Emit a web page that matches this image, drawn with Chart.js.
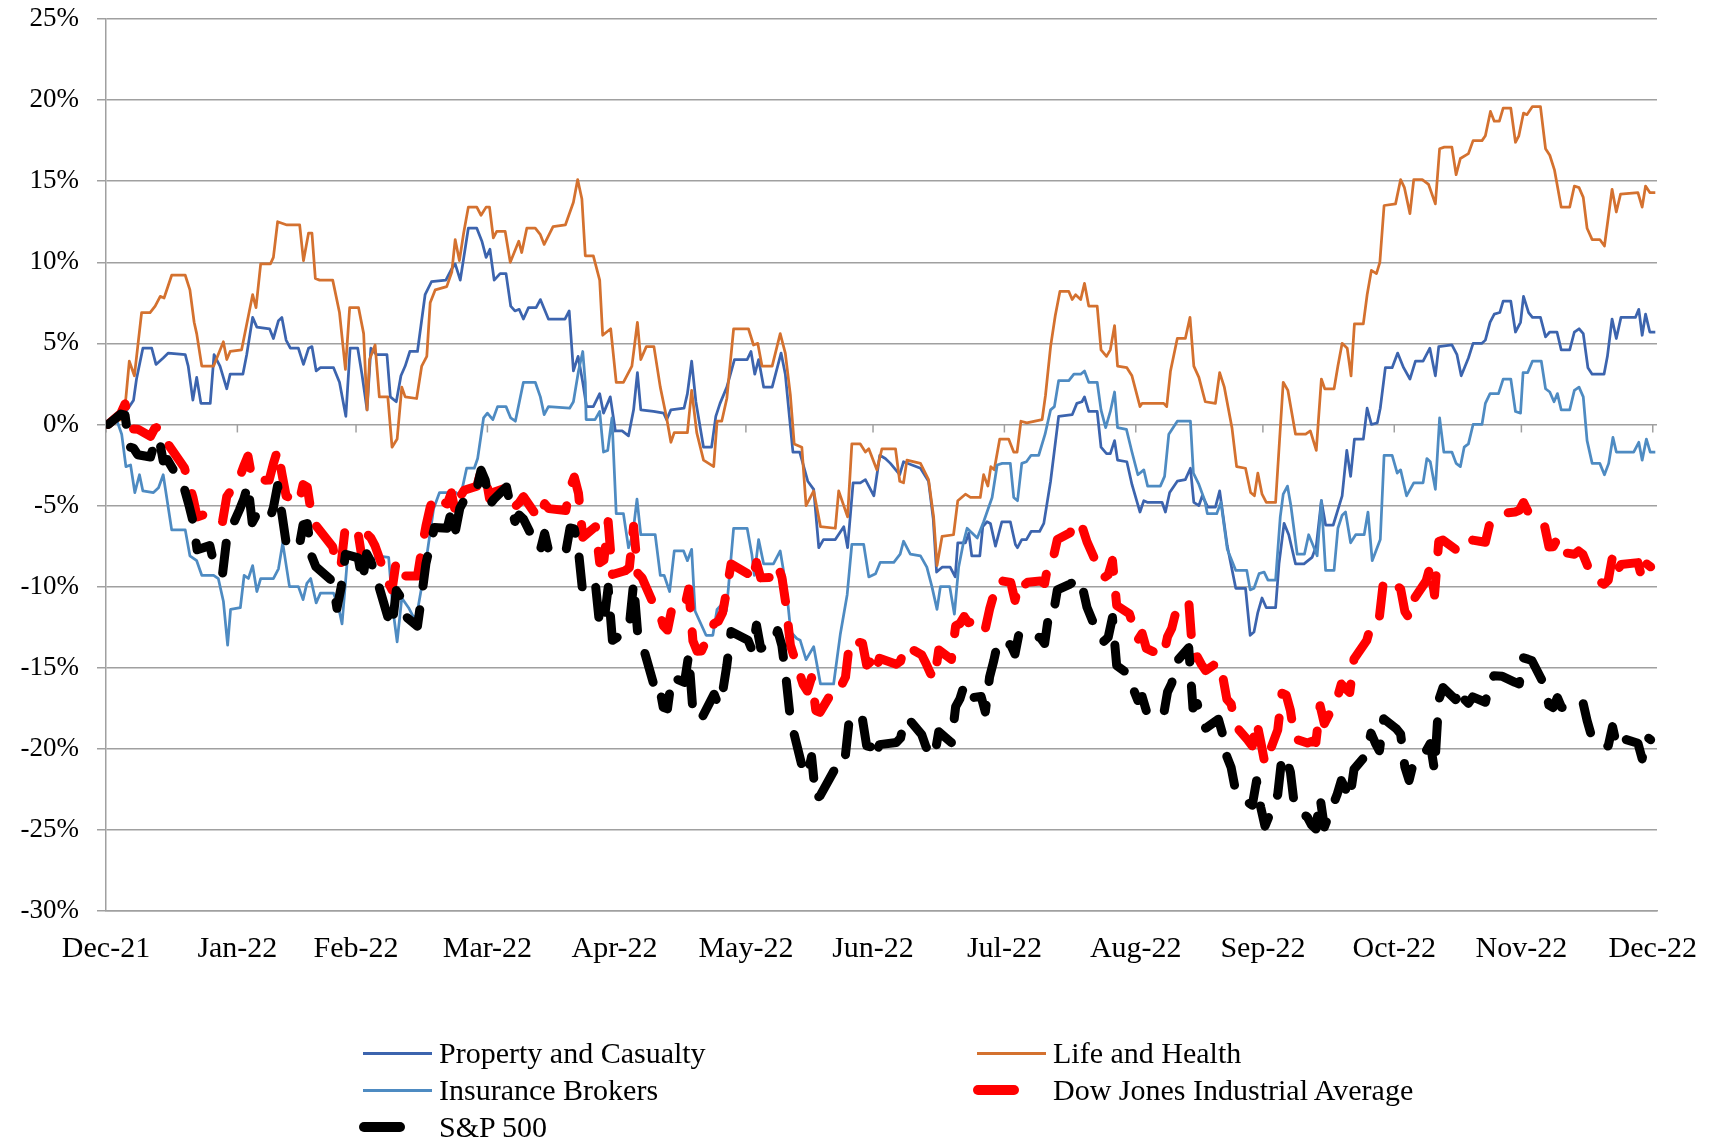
<!DOCTYPE html>
<html>
<head>
<meta charset="utf-8">
<script src="https://cdn.jsdelivr.net/npm/chart.js"></script>
<style>
html,body{margin:0;padding:0;background:#fff;}
#wrap{position:relative;width:1715px;height:1143px;}
#legend{position:absolute;left:0;top:0;width:1715px;height:1143px;pointer-events:none;font-family:"Liberation Serif",serif;font-size:30px;color:#000;}
.item{position:absolute;display:flex;align-items:center;height:37px;white-space:nowrap;}
.sample{width:69px;margin-right:7px;display:flex;align-items:center;}
</style>
</head>
<body>
<div id="wrap"><canvas id="c" width="1715" height="1143"></canvas><div id="legend"></div></div>
<script>
// ---- axis categories (calendar day offsets from 31-Dec-2021) ----
const monthTickDays = [0,31,59,90,120,151,181,212,243,273,304,334,365];
const monthLabels = ['Dec-21','Jan-22','Feb-22','Mar-22','Apr-22','May-22','Jun-22','Jul-22','Aug-22','Sep-22','Oct-22','Nov-22','Dec-22'];

// ---- trading days for the two broad indices ----
const tradingDays = [0,
3,4,5,6,7,10,11,12,13,14,18,19,20,21,24,25,26,27,28,31,
32,33,34,35,38,39,40,41,42,45,46,47,48,49,53,54,55,56,59,
60,61,62,63,66,67,68,69,70,73,74,75,76,77,80,81,82,83,84,87,88,89,90,
91,94,95,96,97,98,101,102,103,104,108,109,110,111,112,115,116,117,118,119,
122,123,124,125,126,129,130,131,132,133,136,137,138,139,140,143,144,145,146,147,151,
152,153,154,157,158,159,160,161,164,165,166,167,168,172,173,174,175,178,179,180,181,
182,186,187,188,189,192,193,194,195,196,199,200,201,202,203,206,207,208,209,210,
213,214,215,216,217,220,221,222,223,224,227,228,229,230,231,234,235,236,237,238,241,242,243,
244,245,249,250,251,252,255,256,257,258,259,262,263,264,265,266,269,270,271,272,273,
276,277,278,279,280,283,284,285,286,287,290,291,292,293,294,297,298,299,300,301,304,
305,306,307,308,311,312,313,314,315,318,319,320,321,322,325,326,327,329,332,333,334,
335,336,339,340,341,342,343,346,347,348,349,350,353,354,355,356,357,361,362,363,364];

const sp500 = [0,
0.64,0.57,-1.38,-1.47,-1.87,-2.01,-1.11,-0.84,-2.25,-2.17,-3.97,-4.90,-5.95,-7.73,-7.47,-8.60,-8.73,-9.22,-7.01,-5.26,
-4.61,-3.71,-6.06,-5.57,-5.92,-5.13,-3.76,-5.50,-7.29,-7.65,-6.19,-6.11,-8.10,-8.76,-9.68,-11.34,-10.02,-8.00,-8.23,
-9.65,-7.97,-8.45,-9.18,-11.86,-12.49,-10.24,-10.63,-11.79,-12.44,-10.57,-8.57,-7.44,-6.36,-6.40,-5.34,-6.50,-5.16,-4.68,-4.00,-2.82,-3.44,-4.95,
-4.62,-3.85,-5.06,-5.98,-5.58,-5.83,-7.42,-7.74,-6.71,-7.84,-7.86,-6.38,-6.44,-7.82,-10.37,-9.86,-12.40,-12.22,-10.04,-13.31,
-12.82,-12.39,-9.78,-12.99,-13.49,-16.26,-16.05,-17.44,-17.54,-15.57,-15.91,-14.21,-17.68,-18.16,-18.15,-16.63,-17.30,-16.52,-14.86,-12.76,-13.30,
-13.95,-12.37,-13.80,-13.53,-12.70,-13.65,-15.70,-18.16,-21.33,-21.62,-20.48,-23.07,-22.90,-21.01,-21.11,-20.36,-17.93,-18.17,-19.82,-19.88,-20.58,
-19.74,-19.61,-19.33,-18.12,-18.19,-19.13,-19.88,-20.23,-20.47,-18.95,-19.62,-17.40,-16.92,-16.10,-16.88,-16.77,-17.73,-15.58,-14.56,-13.34,
-13.59,-14.16,-12.82,-12.89,-13.03,-13.14,-13.51,-11.67,-11.73,-10.20,-9.84,-9.67,-10.33,-10.12,-11.28,-13.18,-13.37,-13.12,-11.90,-14.87,-15.43,-16.37,-17.02,
-16.77,-17.66,-18.00,-16.50,-15.95,-14.66,-13.76,-17.49,-17.21,-18.15,-18.73,-18.18,-19.10,-20.48,-21.15,-22.51,-23.31,-23.48,-21.97,-23.62,-24.77,
-22.82,-20.46,-20.62,-21.44,-23.64,-24.21,-24.70,-24.95,-23.00,-24.82,-22.83,-21.95,-22.47,-23.09,-21.26,-20.33,-19.03,-19.63,-20.12,-18.15,-18.76,
-19.09,-21.12,-21.95,-20.89,-20.13,-19.68,-21.35,-16.99,-16.22,-16.97,-16.25,-16.94,-17.20,-16.80,-17.13,-16.00,-15.50,-15.53,-15.90,-16.00,-14.39,
-14.47,-14.57,-16.10,-17.31,-17.46,-16.84,-17.45,-17.40,-17.20,-17.10,-18.26,-19.17,-19.90,-19.82,-18.63,-19.80,-19.33,-19.66,-20.62,-19.24,-19.44];

const dowJones = [0,
0.68,1.27,0.19,-0.28,-0.29,-0.74,-0.24,-0.13,-0.62,-1.17,-2.67,-3.60,-4.47,-5.70,-5.43,-5.62,-5.97,-5.99,-4.44,-3.32,
-2.57,-1.95,-3.38,-3.44,-3.43,-2.41,-1.57,-3.02,-4.40,-4.88,-3.71,-3.86,-5.58,-6.22,-7.55,-8.82,-8.57,-6.27,-6.73,
-8.38,-6.73,-7.00,-7.49,-9.69,-10.20,-8.40,-8.71,-9.34,-9.34,-7.69,-6.26,-5.11,-4.36,-4.91,-4.21,-5.45,-4.49,-4.06,-3.81,-2.87,-3.05,-4.57,
-4.18,-3.90,-4.67,-5.07,-4.83,-4.45,-5.59,-5.83,-4.88,-5.19,-5.30,-3.93,-3.24,-4.25,-6.95,-6.30,-8.53,-8.36,-5.99,-9.25,
-9.02,-8.83,-6.27,-9.19,-9.46,-11.26,-11.50,-12.40,-12.68,-11.40,-11.32,-10.14,-13.34,-13.99,-13.97,-12.27,-12.14,-11.61,-10.19,-8.60,-9.21,
-9.70,-8.50,-9.46,-9.42,-8.69,-9.43,-11.19,-13.61,-16.02,-16.44,-15.60,-17.64,-17.75,-15.98,-16.11,-15.58,-13.31,-13.48,-14.84,-14.61,-15.31,
-14.42,-14.78,-14.59,-13.63,-13.76,-14.21,-14.74,-15.32,-15.71,-13.90,-14.49,-12.41,-12.28,-11.84,-12.22,-11.97,-12.60,-11.40,-10.48,-9.61,
-9.74,-10.85,-9.70,-9.94,-9.73,-9.65,-9.81,-8.33,-8.26,-7.09,-6.68,-6.02,-6.49,-6.44,-7.24,-9.01,-9.44,-9.27,-8.38,-11.16,-11.67,-12.51,-13.29,
-12.88,-13.81,-14.29,-13.09,-12.56,-11.52,-10.89,-14.40,-14.32,-14.80,-15.18,-14.64,-15.50,-16.94,-17.23,-18.57,-19.48,-19.82,-18.31,-19.57,-20.95,
-18.84,-16.57,-16.69,-17.64,-19.38,-19.64,-19.54,-19.61,-17.34,-18.45,-16.93,-16.00,-16.28,-16.53,-14.46,-13.32,-12.39,-12.38,-11.85,-9.57,-9.92,
-10.14,-11.53,-11.93,-10.83,-9.66,-8.74,-10.52,-7.22,-7.13,-7.71,-7.56,-7.66,-7.68,-7.13,-7.26,-6.16,-5.90,-5.48,-5.40,-5.30,-4.81,
-5.35,-5.40,-6.30,-7.55,-7.54,-7.04,-7.88,-8.00,-7.80,-8.00,-8.63,-9.41,-9.85,-9.60,-8.15,-9.11,-8.63,-8.52,-9.53,-8.58,-8.78];

// ---- insurance sub-indices, read as [day, % change] ----
const propertyCasualty = [[0,0],[4.5,0.7],[6.5,1.5],[7.2,2.8],[8.7,4.7],[10.8,4.7],[11.8,3.7],[13.5,4.1],[14.7,4.4],[18.7,4.3],[19.4,3.6],[20.5,1.5],[21.4,2.9],[22.4,1.3],[24.6,1.3],[25.5,4.3],[26.9,3.6],[28.5,2.2],[29.3,3.1],[32.3,3.1],[33.2,4.3],[34.6,6.6],[35.6,6.0],[38.6,5.9],[39.5,5.3],[40.7,6.4],[41.5,6.6],[42.5,5.2],[43.5,4.7],[45.4,4.7],[46.6,3.7],[47.8,4.7],[48.6,4.8],[49.6,3.3],[50.6,3.5],[53.7,3.5],[55.1,2.6],[56.6,0.5],[57.6,4.7],[59.4,4.7],[60.4,3.1],[61.6,0.9],[62.5,4.7],[63.8,4.3],[66.3,4.3],[67.1,1.7],[68.5,1.4],[69.6,3.0],[70.6,3.6],[71.7,4.5],[73.5,4.5],[75.3,8.0],[76.8,8.8],[80.2,8.9],[81.6,9.6],[82.4,9.9],[83.6,8.9],[85.5,12.1],[87.5,12.1],[88.7,11.3],[89.7,10.3],[90.6,10.8],[91.6,8.9],[93.0,9.3],[94.4,9.3],[95.5,7.3],[96.5,7.0],[97.5,7.1],[98.5,6.5],[99.7,7.2],[101.5,7.2],[102.5,7.7],[104.4,6.5],[108.3,6.5],[109.3,7.0],[110.3,3.3],[111.4,4.2],[112.5,2.6],[113.4,1.1],[115,1.1],[116.5,1.9],[117.4,0.7],[119,1.7],[120.2,-0.4],[121.8,-0.4],[123.3,-0.7],[124.5,0.9],[125.4,3.2],[126.2,0.9],[129.2,0.8],[131.6,0.7],[132.3,0.3],[133.3,0.9],[136.4,1.0],[137.2,1.9],[138.2,3.9],[139.2,1.4],[141.0,-1.4],[142.9,-1.4],[143.9,0.5],[144.9,1.3],[146.5,2.3],[148.3,4.0],[151.3,4.0],[152.2,4.5],[153.1,3.1],[154.0,4.0],[155.2,2.3],[157.2,2.3],[159.3,4.4],[160.3,3.1],[161.3,0.4],[162.1,-1.7],[163.7,-1.7],[165.6,-3.5],[167,-4.0],[168.2,-7.6],[169.3,-7.1],[172.1,-7.1],[174.1,-6.3],[175,-7.6],[176.3,-3.6],[178,-3.6],[179.2,-3.4],[181.2,-4.4],[182.6,-1.9],[183.9,-2.1],[185.1,-2.4],[187.3,-3.1],[188.2,-2.3],[192.2,-2.7],[194.1,-3.5],[195.2,-5.8],[196,-9.1],[197.3,-8.8],[199.2,-8.8],[200.4,-9.4],[201,-7.3],[202.8,-7.3],[203.6,-6.7],[204.3,-8.1],[206.2,-8.1],[206.9,-6.3],[207.9,-6.0],[208.7,-6.1],[209.9,-7.5],[211.4,-6.0],[213.4,-6.0],[214.6,-7.4],[215.1,-7.6],[216.1,-7.1],[217.2,-7.1],[218.3,-6.6],[220.3,-6.6],[221.3,-6.1],[222.9,-3.5],[224.8,0.5],[228,0.6],[229.1,1.3],[230.3,1.4],[230.9,1.7],[231.9,0.8],[233.9,0.8],[234.8,-1.4],[236.1,-1.8],[237,-1.8],[238,-1.0],[238.7,-2.2],[240.9,-2.3],[242.1,-3.7],[244,-5.4],[244.9,-4.7],[245.7,-4.8],[249.2,-4.8],[250,-5.4],[251,-4.2],[252.8,-3.5],[254.7,-3.4],[255.9,-2.7],[256.7,-4.8],[257.9,-5.0],[258.7,-4.4],[260,-5.1],[261.8,-5.1],[262.8,-4.1],[264.6,-7.5],[266.6,-10.1],[268.9,-10.1],[270,-13.0],[270.9,-12.8],[271.8,-11.6],[272.8,-10.7],[273.8,-11.3],[276,-11.3],[276.8,-8.6],[278,-6.1],[279.1,-6.8],[280.7,-8.6],[282.7,-8.6],[284.6,-8.2],[285.6,-7.5],[286.8,-4.7],[287.8,-6.2],[289.6,-6.2],[291.7,-4.4],[292.8,-1.6],[293.7,-3.2],[294.6,-0.9],[296.7,-0.9],[297.6,1.0],[298.6,0],[300,0.1],[300.7,1.0],[301.9,3.5],[303.5,3.5],[304.8,4.4],[306.2,3.5],[307.7,2.8],[309,3.9],[310.8,3.9],[312.4,4.7],[313.7,3.0],[314.5,4.8],[317.6,4.9],[318.8,4.3],[319.8,3.0],[321.5,4.1],[322.6,5.0],[324.7,5.0],[325.5,5.2],[326.6,6.3],[327.6,6.8],[328.9,6.9],[329.7,7.6],[331.5,7.6],[332.6,5.7],[333.8,6.3],[334.5,7.9],[335.7,6.9],[336.6,6.6],[338.5,6.6],[339.7,5.4],[340.7,5.7],[342.4,5.7],[343.4,4.6],[345.4,4.6],[346.5,5.7],[347.6,5.9],[348.6,5.6],[349.7,3.5],[350.7,3.1],[353.5,3.1],[354.3,4.2],[355.4,6.5],[356.4,5.3],[357.5,6.6],[360.9,6.6],[361.7,7.1],[362.5,5.5],[363.3,6.8],[364.3,5.7],[365.6,5.7]];

const lifeHealth = [[0,0],[3.5,0.3],[4.5,1.1],[5.5,3.9],[6.7,3.0],[8.4,6.9],[10.4,6.9],[11.6,7.3],[12.8,7.9],[13.7,7.8],[15.5,9.2],[18.7,9.2],[19.8,8.3],[20.8,6.3],[21.4,5.6],[22.6,3.6],[25.4,3.6],[27.7,5.1],[28.5,4.0],[29.3,4.5],[32,4.6],[34.6,8.0],[35.4,7.2],[36.5,9.9],[38.8,9.9],[39.5,10.3],[40.5,12.5],[42.7,12.3],[45.7,12.3],[46.6,10.1],[47.8,11.8],[48.6,11.8],[49.4,9.0],[50.4,8.9],[53.5,8.9],[55.1,6.9],[56.5,3.4],[57.5,7.2],[59.6,7.2],[60.8,5.6],[61.6,0.9],[62.2,4.0],[63.5,4.9],[64.5,1.7],[66.5,1.7],[67.5,-1.4],[68.7,-0.9],[69.8,2.3],[70.6,1.7],[73.3,1.6],[74.5,3.6],[75.7,4.2],[76.5,7.5],[77.7,8.3],[80.4,8.5],[81.6,9.4],[82.4,11.4],[83.4,10.1],[84.4,11.8],[85.5,13.4],[87.5,13.4],[88.5,12.9],[89.7,13.4],[90.5,13.4],[91.4,11.5],[92.2,11.9],[94.2,11.9],[95.4,10.0],[97.4,11.3],[98.1,10.6],[99.3,12.1],[101.3,12.1],[102.5,11.7],[103.4,11.1],[105.5,12.2],[108.4,12.3],[110.3,13.7],[111.3,15.1],[112.3,13.9],[113.1,10.4],[115.0,10.4],[116.5,8.9],[117.2,5.5],[119.1,5.9],[120.4,2.6],[122.1,2.6],[124.1,3.6],[125.4,6.3],[126.2,4.0],[127.5,4.8],[129.3,4.8],[130.8,2.3],[132.3,0.4],[133.3,-1.1],[134.1,-0.5],[137.2,-0.5],[138.2,2.1],[139.4,-0.5],[141,-2.2],[143.4,-2.6],[144.2,0.2],[145.3,0.2],[146.5,1.6],[148.1,5.9],[151.6,5.9],[152.8,4.9],[153.8,5.0],[154.8,3.6],[157.2,3.6],[159.1,5.6],[160.3,4.4],[161.5,1.8],[162.4,-1.2],[164.2,-1.4],[165.2,-5.0],[167.0,-4.1],[168.6,-6.3],[172.1,-6.4],[172.9,-4.1],[175.0,-5.7],[176.0,-1.2],[178.0,-1.2],[179.2,-1.7],[180.0,-1.5],[181.9,-2.8],[183.1,-1.5],[186.3,-1.5],[187.3,-3.5],[188.2,-3.6],[189.0,-2.2],[192.2,-2.4],[194.1,-3.4],[195.3,-5.7],[196.1,-8.7],[197.3,-6.9],[200.0,-6.8],[201.0,-4.7],[202.8,-4.3],[204.0,-4.5],[206.3,-4.5],[207.1,-3.1],[208.1,-3.8],[208.8,-2.6],[209.6,-2.8],[210.9,-0.9],[213,-0.9],[214.2,-1.7],[215,-1.7],[215.9,0.2],[217.3,0.1],[220.9,0.3],[221.7,1.8],[222.9,4.8],[224.0,6.7],[225.1,8.2],[227.2,8.2],[228,7.7],[228.8,8.0],[230,7.7],[230.9,8.7],[231.9,7.3],[233.9,7.3],[234.8,4.6],[236.1,4.2],[237,4.6],[238,6.1],[238.7,3.6],[240.9,3.5],[242.1,3.0],[244,1.1],[244.5,1.3],[249.6,1.3],[250.3,1.1],[251.2,3.3],[252.8,5.3],[254.7,5.3],[255.8,6.6],[256.7,3.6],[257.9,2.9],[259.4,1.4],[261.8,1.3],[262.8,3.2],[263.9,2.3],[265.7,-0.2],[266.8,-2.6],[268.9,-2.7],[270.1,-4.2],[271,-4.4],[271.8,-3.0],[272.8,-4.3],[273.8,-4.8],[276,-4.8],[277.8,2.6],[278.9,2.1],[280.7,-0.6],[283.1,-0.6],[284.2,-0.4],[285.6,-1.6],[286.8,2.8],[287.6,2.2],[289.8,2.2],[290.7,3.6],[291.7,5.0],[292.9,4.7],[293.8,3.0],[294.6,6.2],[296.7,6.2],[297.6,8.0],[298.6,9.5],[299.8,9.3],[300.6,10.0],[301.6,13.5],[304.3,13.6],[305.5,15.1],[306.4,14.6],[307.7,13.0],[308.6,15.1],[310.6,15.1],[312.1,14.8],[313.7,13.6],[314.7,17.0],[315.8,17.1],[317.6,17.1],[318.6,15.4],[319.6,16.4],[321.5,16.7],[322.6,17.5],[324.7,17.5],[325.5,17.8],[326.7,19.3],[327.6,18.7],[328.8,18.7],[329.7,19.5],[331.5,19.5],[332.6,17.4],[333.4,17.8],[334.5,19.2],[335.3,19.1],[336.6,19.6],[338.5,19.6],[339.7,17.0],[340.7,16.6],[341.8,15.7],[343.4,13.4],[345.4,13.4],[346.5,14.7],[347.6,14.6],[348.6,14.0],[349.5,12.1],[350.7,11.4],[352.5,11.4],[353.6,11.0],[355.4,14.5],[356.4,13.1],[357.4,14.2],[361.5,14.3],[362.5,13.4],[363.3,14.7],[364.3,14.3],[365.6,14.3]];

const insuranceBrokers = [[0,0.2],[2.5,0.3],[3.7,-0.6],[4.7,-2.6],[5.8,-2.5],[6.8,-4.2],[7.9,-3.1],[8.7,-4.1],[11.2,-4.2],[12.4,-3.9],[13.5,-3.1],[15.5,-6.5],[18.7,-6.5],[19.8,-8.1],[21.4,-8.4],[22.6,-9.3],[25.4,-9.3],[26.5,-9.5],[27.7,-10.9],[28.7,-13.6],[29.4,-11.4],[31.7,-11.3],[32.6,-9.3],[33.6,-9.5],[34.6,-8.7],[35.6,-10.3],[36.5,-9.5],[39.5,-9.5],[40.7,-8.9],[41.7,-7.3],[43.3,-10.0],[45.4,-10.0],[46.5,-10.8],[47.4,-9.8],[48.3,-9.5],[49.6,-11.0],[50.6,-10.4],[53.7,-10.4],[54.9,-11.3],[55.7,-12.3],[57,-8.2],[59.2,-8.2],[60.8,-8.6],[62.2,-8.7],[63.9,-8.1],[66.7,-8.2],[67.7,-11.4],[68.7,-13.4],[69.8,-10.7],[71.4,-11.3],[72.6,-11.9],[73.3,-11.8],[74.5,-10.0],[75.7,-8.1],[77.3,-5.2],[78.7,-4.2],[80.8,-4.2],[81.8,-4.5],[82.6,-4.2],[83.7,-4.4],[85.1,-2.7],[86.9,-2.7],[87.7,-2.1],[89.1,0.4],[90,0.7],[91.3,0.3],[92.4,1.1],[94.4,1.1],[95.5,0.4],[96.6,0.2],[98.5,2.6],[101.3,2.6],[102.5,1.7],[103.4,0.6],[104.4,1.1],[109.4,1.0],[110.3,1.4],[111.5,3.3],[112.5,4.5],[113.1,2.6],[113.3,0.3],[115.4,0.3],[116.5,0.8],[117.4,-1.7],[118.4,-1.6],[119.4,0.4],[120.4,-5.5],[122.1,-5.5],[123.3,-7.6],[124.3,-6.8],[125.3,-4.6],[126.2,-6.8],[129.6,-6.8],[130.8,-9.3],[131.7,-9.3],[133,-10.3],[134.1,-7.8],[136.3,-7.8],[137.2,-8.4],[138.2,-7.7],[139,-11.5],[141.6,-13.0],[143.2,-13.0],[144.2,-11.4],[145.3,-11.1],[146.4,-11.5],[148.1,-6.4],[151.3,-6.4],[152.4,-8.0],[153,-9.3],[154,-7.1],[155.2,-8.6],[157.5,-8.6],[159.1,-7.8],[160.5,-10.0],[161.6,-12.8],[163,-13.2],[163.8,-13.3],[165.2,-14.5],[167,-13.7],[168.6,-16.0],[171.7,-16.0],[173.3,-12.9],[174.9,-10.5],[176,-7.4],[178.8,-7.4],[180,-9.4],[181.6,-9.2],[182.7,-8.5],[185.9,-8.5],[187.4,-8.0],[188.2,-7.2],[189.8,-8.0],[192.2,-8.1],[193.7,-8.8],[194.9,-10.0],[196.1,-11.4],[196.9,-10.0],[199.1,-10.0],[200.2,-11.7],[201.2,-8.8],[202.4,-7.2],[203.2,-6.4],[205.6,-7.0],[207.1,-6.0],[209.1,-4.5],[210.3,-2.5],[211.5,-2.4],[213.4,-2.4],[214.2,-4.5],[215.1,-4.7],[216.1,-2.4],[217.2,-2.3],[218.3,-1.9],[220.1,-1.9],[221.6,-0.6],[222.9,0.9],[223.8,1.1],[224.8,2.7],[227.2,2.7],[228.4,3.1],[230,3.1],[230.9,3.3],[231.9,2.6],[233.9,2.6],[234.8,0.9],[235.9,-0.2],[237,0.8],[238,2.0],[238.7,-0.2],[240.8,-0.3],[242.1,-1.7],[243.5,-3.1],[244.9,-2.8],[245.8,-3.8],[248.8,-3.8],[249.8,-3.2],[250.8,-0.6],[252.8,0.2],[255.9,0.2],[256.6,-3.0],[257.9,-3.7],[259.3,-4.7],[259.9,-5.5],[262.1,-5.5],[263.1,-4.8],[264.6,-7.7],[266.6,-9.0],[269.2,-9.0],[270,-10.2],[270.9,-10.1],[272.1,-9.2],[273.3,-9.1],[274.2,-9.6],[276,-9.6],[277.1,-5.7],[277.8,-4.3],[278.8,-3.8],[279.6,-5.0],[281.1,-8.0],[282.8,-8.0],[283.8,-6.8],[284.9,-7.5],[285.8,-8.1],[286.8,-4.7],[287.8,-9.0],[289.8,-9.0],[290.7,-6.4],[291.7,-5.6],[292.5,-5.4],[293.7,-7.3],[294.9,-6.8],[296.9,-6.8],[297.8,-5.4],[298.8,-8.4],[300.7,-7.1],[301.6,-1.9],[303.5,-1.9],[304.7,-3.0],[305.5,-2.8],[306.9,-4.4],[308.6,-3.6],[310.8,-3.6],[311.7,-2.1],[312.5,-2.3],[313.7,-4.0],[314.7,0.4],[315.7,-1.7],[317.6,-1.7],[318.6,-2.4],[319.6,-2.6],[320.5,-1.4],[321.5,-1.2],[322.6,0],[324.7,0],[325.5,1.3],[326.6,1.9],[328.6,1.9],[329.7,2.8],[331.5,2.8],[332.6,0.8],[333.8,0.7],[334.4,3.2],[335.5,3.2],[336.6,3.9],[338.7,3.9],[339.7,2.2],[340.7,2.0],[341.7,1.4],[342.5,1.9],[343.4,0.9],[345.4,0.9],[346.5,2.1],[347.6,2.3],[348.6,1.7],[349.5,-1.0],[350.7,-2.4],[352.5,-2.4],[353.6,-3.1],[354.6,-2.4],[355.6,-0.8],[356.4,-1.7],[360.5,-1.7],[361.7,-1.1],[362.5,-2.2],[363.5,-0.9],[364.4,-1.7],[365.6,-1.7]];

const seriesNames = ['Property and Casualty','Life and Health','Insurance Brokers','Dow Jones Industrial Average','S&P 500'];

// ---- build chart ----
const GRID = '#a0a0a0';
const FONT = '"Liberation Serif", "Times New Roman", serif';
const SLOT = 0.5; // daily values sit in the middle of their day on the date axis

const fromPairs = arr => arr.map(p => ({x: p[0], y: p[1]}));
const fromDays = vals => tradingDays.map((d, i) => ({x: d + SLOT, y: vals[i]}));

const solid = (label, data, color, order) => ({
  label, data, borderColor: color, backgroundColor: color, borderWidth: 2.75,
  pointRadius: 0, tension: 0, fill: false, order, borderJoinStyle: 'round', dashed: false
});
const dashed = (label, data, color, order) => ({
  label, data, borderColor: color, backgroundColor: color, borderWidth: 9,
  borderDash: [30, 24], borderCapStyle: 'round', borderJoinStyle: 'round',
  pointRadius: 0, tension: 0, fill: false, order, dashed: true
});

const zeroLineTicks = {
  id: 'zeroLineTicks',
  beforeDatasetsDraw(chart) {
    const {ctx, scales: {x, y}} = chart;
    const y0 = y.getPixelForValue(0);
    ctx.save();
    ctx.strokeStyle = GRID;
    ctx.lineWidth = 1.5;
    monthTickDays.forEach(d => {
      const px = x.getPixelForValue(d);
      ctx.beginPath();
      ctx.moveTo(px, y0);
      ctx.lineTo(px, y0 + 8);
      ctx.stroke();
    });
    ctx.restore();
  }
};

const chart = new Chart(document.getElementById('c'), {
  type: 'line',
  data: {
    datasets: [
      solid(seriesNames[0], fromPairs(propertyCasualty), '#3c64ae', 5),
      solid(seriesNames[1], fromPairs(lifeHealth), '#d4712f', 4),
      solid(seriesNames[2], fromPairs(insuranceBrokers), '#4e8bc2', 3),
      dashed(seriesNames[3], fromDays(dowJones), '#ff0000', 2),
      dashed(seriesNames[4], fromDays(sp500), '#000000', 1)
    ]
  },
  options: {
    responsive: false,
    animation: false,
    devicePixelRatio: 1,
    layout: {padding: {top: 19, right: 58, left: 0, bottom: 162}},
    plugins: {legend: {display: false}, tooltip: {enabled: false}},
    scales: {
      x: {
        type: 'linear', min: 0, max: 366,
        afterBuildTicks: s => { s.ticks = monthTickDays.map(v => ({value: v})); },
        afterFit: s => { s.height = 70; s.paddingLeft = 0; s.paddingRight = 0; },
        ticks: {
          autoSkip: false, maxRotation: 0, padding: 20, color: '#000',
          font: {family: FONT, size: 30},
          callback: v => monthLabels[monthTickDays.indexOf(v)]
        },
        grid: {display: false, drawTicks: false},
        border: {display: true, color: GRID, width: 1.5}
      },
      y: {
        min: -30, max: 25,
        afterFit: s => { s.width = 106; s.paddingTop = 0; s.paddingBottom = 0; },
        ticks: {
          stepSize: 5, padding: 18, color: '#000',
          font: {family: FONT, size: 27},
          callback: v => v + '%'
        },
        grid: {color: GRID, lineWidth: 1.5, drawTicks: true, tickLength: 9, tickColor: GRID},
        border: {display: true, color: GRID, width: 1.5}
      }
    }
  },
  plugins: [zeroLineTicks]
});

// ---- HTML legend (two columns, built from the chart's datasets) ----
const legendColLeft = [363, 977];
const legendRowMid = [1053, 1090, 1127];
const legendEl = document.getElementById('legend');
chart.data.datasets.forEach((ds, i) => {
  const item = document.createElement('div');
  item.className = 'item';
  item.style.left = legendColLeft[i % 2] + 'px';
  item.style.top = (legendRowMid[Math.floor(i / 2)] - 18.5) + 'px';
  const sample = document.createElement('div');
  sample.className = 'sample';
  const mark = document.createElement('div');
  if (ds.dashed) {
    mark.style.cssText = 'width:46px;height:10px;border-radius:5px;margin-left:-4px;background:' + ds.borderColor;
  } else {
    mark.style.cssText = 'width:69px;height:3px;background:' + ds.borderColor;
  }
  sample.appendChild(mark);
  const text = document.createElement('span');
  text.textContent = ds.label;
  item.appendChild(sample);
  item.appendChild(text);
  legendEl.appendChild(item);
});
</script>
</body>
</html>
